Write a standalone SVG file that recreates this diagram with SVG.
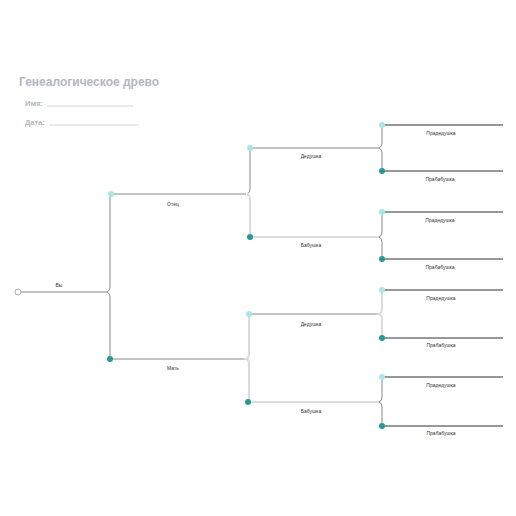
<svg xmlns="http://www.w3.org/2000/svg" width="516" height="516" viewBox="0 0 516 516">
<style>
.t{font-family:"Liberation Sans",Arial,sans-serif;fill:#b3b8be;font-weight:bold}
.lb{font-family:"Liberation Sans",Arial,sans-serif;font-size:5px;fill:#333;text-anchor:middle}
.g{fill:none;stroke:#8a8a8a;stroke-width:1}
.l{fill:none;stroke:#dcdcdc;stroke-width:2}
.d{fill:none;stroke:#333;stroke-width:1}
.u{stroke:#c8ccd0;stroke-width:0.8}
.m{fill:#a9e6e8}
.f{fill:#23999a}
</style>
<rect width="516" height="516" fill="#fff"/>
<g id="header">
<text class="t" x="19" y="86" font-size="12">Генеалогическое древо</text>
<text class="t" x="25" y="106" font-size="7.5">Имя:</text>
<line class="u" x1="47" y1="106" x2="133" y2="106"/>
<text class="t" x="25" y="125" font-size="7.5">Дата:</text>
<line class="u" x1="50" y1="125" x2="139" y2="125"/>
</g>
<g id="connectors">
<!-- root -->
<line class="g" x1="21" y1="292" x2="107" y2="292"/>
<path class="g" d="M110,194 V287 Q110,291 107,292 Q110,293 110,297 V359"/>
<!-- father / mother -->
<line class="g" x1="111" y1="194" x2="246" y2="194"/>
<line class="g" x1="110" y1="359" x2="246" y2="359"/>
<path class="g" d="M250,148 V189 Q250,193 247,194"/>
<path class="l" d="M247,194 Q250,195 250,199 V237"/>
<path class="l" d="M249,314 V354 Q249,358 246,359 Q249,360 249,364 V402"/>
<!-- grandparents -->
<line class="g" x1="250" y1="148" x2="379" y2="148"/>
<line class="l" x1="250" y1="237" x2="379" y2="237"/>
<line class="g" x1="249" y1="314" x2="379" y2="314"/>
<line class="l" x1="249" y1="402" x2="379" y2="402"/>
<!-- great grand brackets -->
<path class="g" d="M382,125 V143 Q382,147 379,148 Q382,149 382,153 V171"/>
<path class="g" d="M382,212 V232 Q382,236 379,237 Q382,238 382,242 V259"/>
<path class="l" d="M382,290 V309 Q382,313 379,314 Q382,315 382,319 V338"/>
<path class="g" d="M382,377 V397 Q382,401 379,402 Q382,403 382,407 V426"/>
<!-- great grand lines -->
<line class="d" x1="382" y1="125" x2="503" y2="125"/>
<line class="d" x1="382" y1="171" x2="503" y2="171"/>
<line class="d" x1="382" y1="212" x2="503" y2="212"/>
<line class="d" x1="382" y1="259" x2="503" y2="259"/>
<line class="d" x1="382" y1="290" x2="503" y2="290"/>
<line class="d" x1="382" y1="338" x2="503" y2="338"/>
<line class="d" x1="382" y1="377" x2="503" y2="377"/>
<line class="d" x1="382" y1="426" x2="503" y2="426"/>
</g>
<g id="you"><circle cx="18" cy="292" r="3" fill="#fff" stroke="#999" stroke-width="0.8"/><text class="lb" x="59" y="287">Вы</text></g>
<g id="father"><circle class="m" cx="111" cy="194" r="3"/><text class="lb" x="173" y="206">Отец</text></g>
<g id="mother"><circle class="f" cx="110" cy="359" r="3"/><text class="lb" x="173" y="370">Мать</text></g>
<g id="gf1"><circle class="m" cx="250" cy="148" r="3"/><text class="lb" x="311" y="158">Дедушка</text></g>
<g id="gm1"><circle class="f" cx="250" cy="237" r="3"/><text class="lb" x="311" y="247">Бабушка</text></g>
<g id="gf2"><circle class="m" cx="249" cy="314" r="3"/><text class="lb" x="311" y="326">Дедушка</text></g>
<g id="gm2"><circle class="f" cx="248" cy="402" r="3"/><text class="lb" x="311" y="413">Бабушка</text></g>
<g id="ggf1"><circle class="m" cx="382" cy="125" r="3"/><text class="lb" x="441" y="135">Прадедушка</text></g>
<g id="ggm1"><circle class="f" cx="382" cy="171" r="3"/><text class="lb" x="440" y="181">Прабабушка</text></g>
<g id="ggf2"><circle class="m" cx="382" cy="212" r="3"/><text class="lb" x="440" y="222">Прадедушка</text></g>
<g id="ggm2"><circle class="f" cx="382" cy="259" r="3"/><text class="lb" x="440" y="269">Прабабушка</text></g>
<g id="ggf3"><circle class="m" cx="382" cy="290" r="3"/><text class="lb" x="441" y="300">Прадедушка</text></g>
<g id="ggm3"><circle class="f" cx="382" cy="338" r="3"/><text class="lb" x="441" y="347">Прабабушка</text></g>
<g id="ggf4"><circle class="m" cx="382" cy="377" r="3"/><text class="lb" x="441" y="387">Прадедушка</text></g>
<g id="ggm4"><circle class="f" cx="382" cy="426" r="3"/><text class="lb" x="441" y="435">Прабабушка</text></g>
</svg>
